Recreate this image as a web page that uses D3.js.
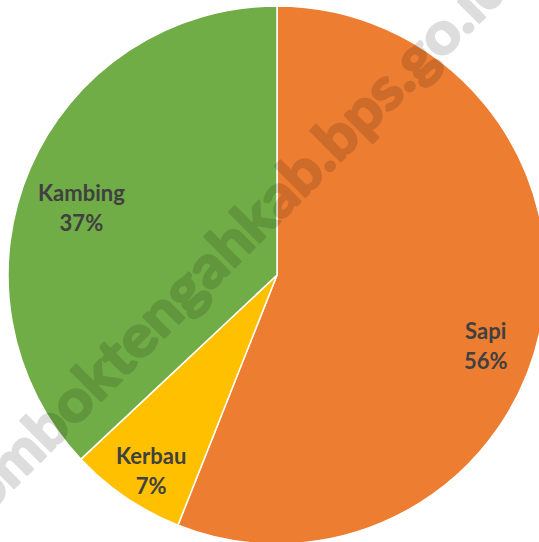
<!DOCTYPE html>
<html>
<head>
<meta charset="utf-8">
<style>
  body { margin: 0; background: #fff; }
  svg { display: block; }
  .lbl { font-family: Lato, 'Open Sans', sans-serif; font-weight: 700; font-size: 22px; fill: #404040; }
  .wm { font-family: Lato, 'Open Sans', sans-serif; font-weight: 700; fill: #000; stroke: #000; stroke-width: 2.5; stroke-linejoin: round; }
</style>
</head>
<body>
<svg width="539" height="542"></svg>
<script src="https://d3js.org/d3.v7.min.js"></script>
<script>
  // data
  let categories = ["Sapi", "Kerbau", "Kambing"]
  let values = [56, 7, 37]
  let colors = ["#ED7D31", "#FFC000", "#70AD47"]

  let width = 539, height = 542
  let cx = 277, cy = 275, R = 269

  let svg = d3.select("svg")
  let g = svg.append("g").attr("transform", `translate(${cx},${cy})`)

  let rows = categories.map((c, i) => ({ name: c, value: values[i], color: colors[i] }))

  let pie = d3.pie().value(d => d.value).sort(null)
  let arc = d3.arc().innerRadius(0).outerRadius(R)
  let arcs = pie(rows)

  g.selectAll("path.slice")
    .data(arcs)
    .join("path")
    .attr("class", "slice")
    .attr("d", arc)
    .attr("fill", d => d.data.color)
    .attr("stroke", "#fff")
    .attr("stroke-width", 1.5)

  // label placement tweaks (fraction of radius, angle shift in degrees), like excel best fit
  let tweak = { Sapi: [0.83, 10], Kerbau: [0.89, -2.5], Kambing: [0.76, -6.5] }

  let labels = g.selectAll("g.lbl-g")
    .data(arcs)
    .join("g")
    .attr("class", "lbl-g")
    .attr("transform", d => {
      let t = tweak[d.data.name]
      let a = (d.startAngle + d.endAngle) / 2 + t[1] * Math.PI / 180
      let r = R * t[0]
      return `translate(${r * Math.sin(a)},${-r * Math.cos(a)})`
    })

  labels.append("text")
    .attr("class", "lbl")
    .attr("text-anchor", "middle")
    .attr("y", -15)
    .text(d => d.data.name)

  labels.append("text")
    .attr("class", "lbl")
    .attr("text-anchor", "middle")
    .attr("y", 15)
    .text(d => Math.round(d.data.value) + "%")

  // watermark
  svg.append("g")
    .attr("opacity", 0.13)
    .append("text")
    .attr("class", "wm")
    .attr("text-anchor", "middle")
    .attr("transform", "translate(244,258) rotate(-45)")
    .attr("font-size", 58)
    .attr("textLength", 760)
    .attr("lengthAdjust", "spacingAndGlyphs")
    .text("lomboktengahkab.bps.go.id")
</script>
</body>
</html>
